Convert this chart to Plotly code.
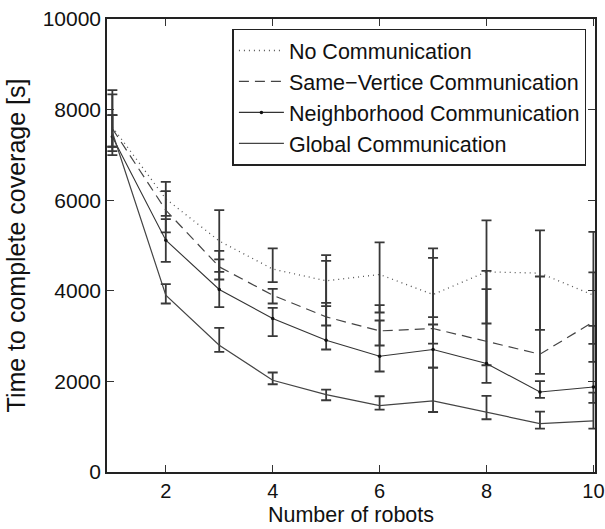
import plotly.graph_objects as go

# Number of robots
robots = [1, 2, 3, 4, 5, 6, 7, 8, 9, 10]

# Mean time to complete coverage [s] and error-bar extents for each strategy
no_comm_mean = [7620, 6030, 5100, 4480, 4220, 4360, 3918, 4418, 4390, 3903]
no_comm_hi = [8432, 6406, 5781, 4935, 4787, 5067, 4935, 5553, 5332, 5302]
no_comm_lo = [6996, 5655, 4418, 4190, 3660, 3521, 3417, 3278, 3137, 2430]

same_vert_mean = [7580, 5780, 4528, 3903, 3424, 3115, 3167, 2887, 2600, 3314]
same_vert_hi = [8337, 6201, 4882, 4043, 4661, 3682, 3256, 4036, 4316, 4405]
same_vert_lo = [7085, 5288, 4250, 3720, 3234, 2792, 2836, 1966, 2165, 2827]

neigh_mean = [7400, 5118, 4029, 3388, 2909, 2556, 2703, 2394, 1767, 1878]
neigh_hi = [7880, 5582, 4692, 3623, 3733, 3344, 4728, 4440, 2004, 3225]
neigh_lo = [7180, 4639, 3638, 2998, 2704, 2218, 2306, 2357, 1635, 1524]

global_mean = [7500, 3903, 2799, 2026, 1709, 1466, 1568, 1312, 1069, 1127]
global_hi = [7880, 4146, 3181, 2196, 1820, 1672, 2306, 1679, 1334, 1754]
global_lo = [7180, 3720, 2651, 1937, 1584, 1378, 1325, 1164, 959, 959]

x_ticks = [2, 4, 6, 8, 10]
y_ticks = [0, 2000, 4000, 6000, 8000, 10000]

series = [
    ("No Communication", no_comm_mean, no_comm_hi, no_comm_lo,
     dict(color="#555555", width=1.3, dash="1px,4px"), None),
    ("Same\u2212Vertice Communication", same_vert_mean, same_vert_hi, same_vert_lo,
     dict(color="#444444", width=1.2, dash="10px,6px"), None),
    ("Neighborhood Communication", neigh_mean, neigh_hi, neigh_lo,
     dict(color="#333333", width=1.1), dict(size=3.5, color="#111111")),
    ("Global Communication", global_mean, global_hi, global_lo,
     dict(color="#444444", width=1.2), None),
]

FONT = "Liberation Sans, Arial, sans-serif"

fig = go.Figure()
for name, mean, hi, lo, line, marker in series:
    fig.add_trace(go.Scatter(
        x=robots,
        y=mean,
        name=name,
        mode="lines+markers" if marker else "lines",
        line=line,
        marker=marker,
        error_y=dict(
            type="data",
            symmetric=False,
            array=[h - m for h, m in zip(hi, mean)],
            arrayminus=[m - l for m, l in zip(mean, lo)],
            color="#383838",
            thickness=1.8,
            width=5,
        ),
    ))

axis_common = dict(
    showline=True,
    linecolor="#222222",
    linewidth=1.5,
    mirror="ticks",
    ticks="inside",
    ticklen=7,
    tickwidth=1,
    tickcolor="#333333",
    showgrid=False,
    zeroline=False,
    automargin=False,
    ticklabeloverflow="allow",
)

fig.update_layout(
    width=605,
    height=529,
    margin=dict(l=107, r=10, t=19, b=57),
    paper_bgcolor="white",
    plot_bgcolor="white",
    font=dict(family=FONT, size=21, color="#111111"),
    showlegend=True,
    legend=dict(
        x=0.257,
        y=0.979,
        xanchor="left",
        yanchor="top",
        bgcolor="white",
        bordercolor="#222222",
        borderwidth=1.5,
        font=dict(family=FONT, size=21.5, color="#111111"),
        itemwidth=45,
        tracegroupgap=0,
    ),
    xaxis=dict(
        range=[0.9, 10.03],
        tickvals=x_ticks,
        ticktext=[str(v) for v in x_ticks],
        tickfont=dict(family=FONT, size=20, color="#111111"),
        title=dict(text="Number of robots", font=dict(family=FONT, size=21.5), standoff=6),
        **axis_common,
    ),
    yaxis=dict(
        range=[0, 10000],
        tickvals=y_ticks,
        ticktext=[str(v) for v in y_ticks],
        tickfont=dict(family=FONT, size=21, color="#111111"),
        title=dict(text="Time to complete coverage [s]", font=dict(family=FONT, size=25), standoff=10),
        **axis_common,
    ),
)

fig.write_html("out.html")
